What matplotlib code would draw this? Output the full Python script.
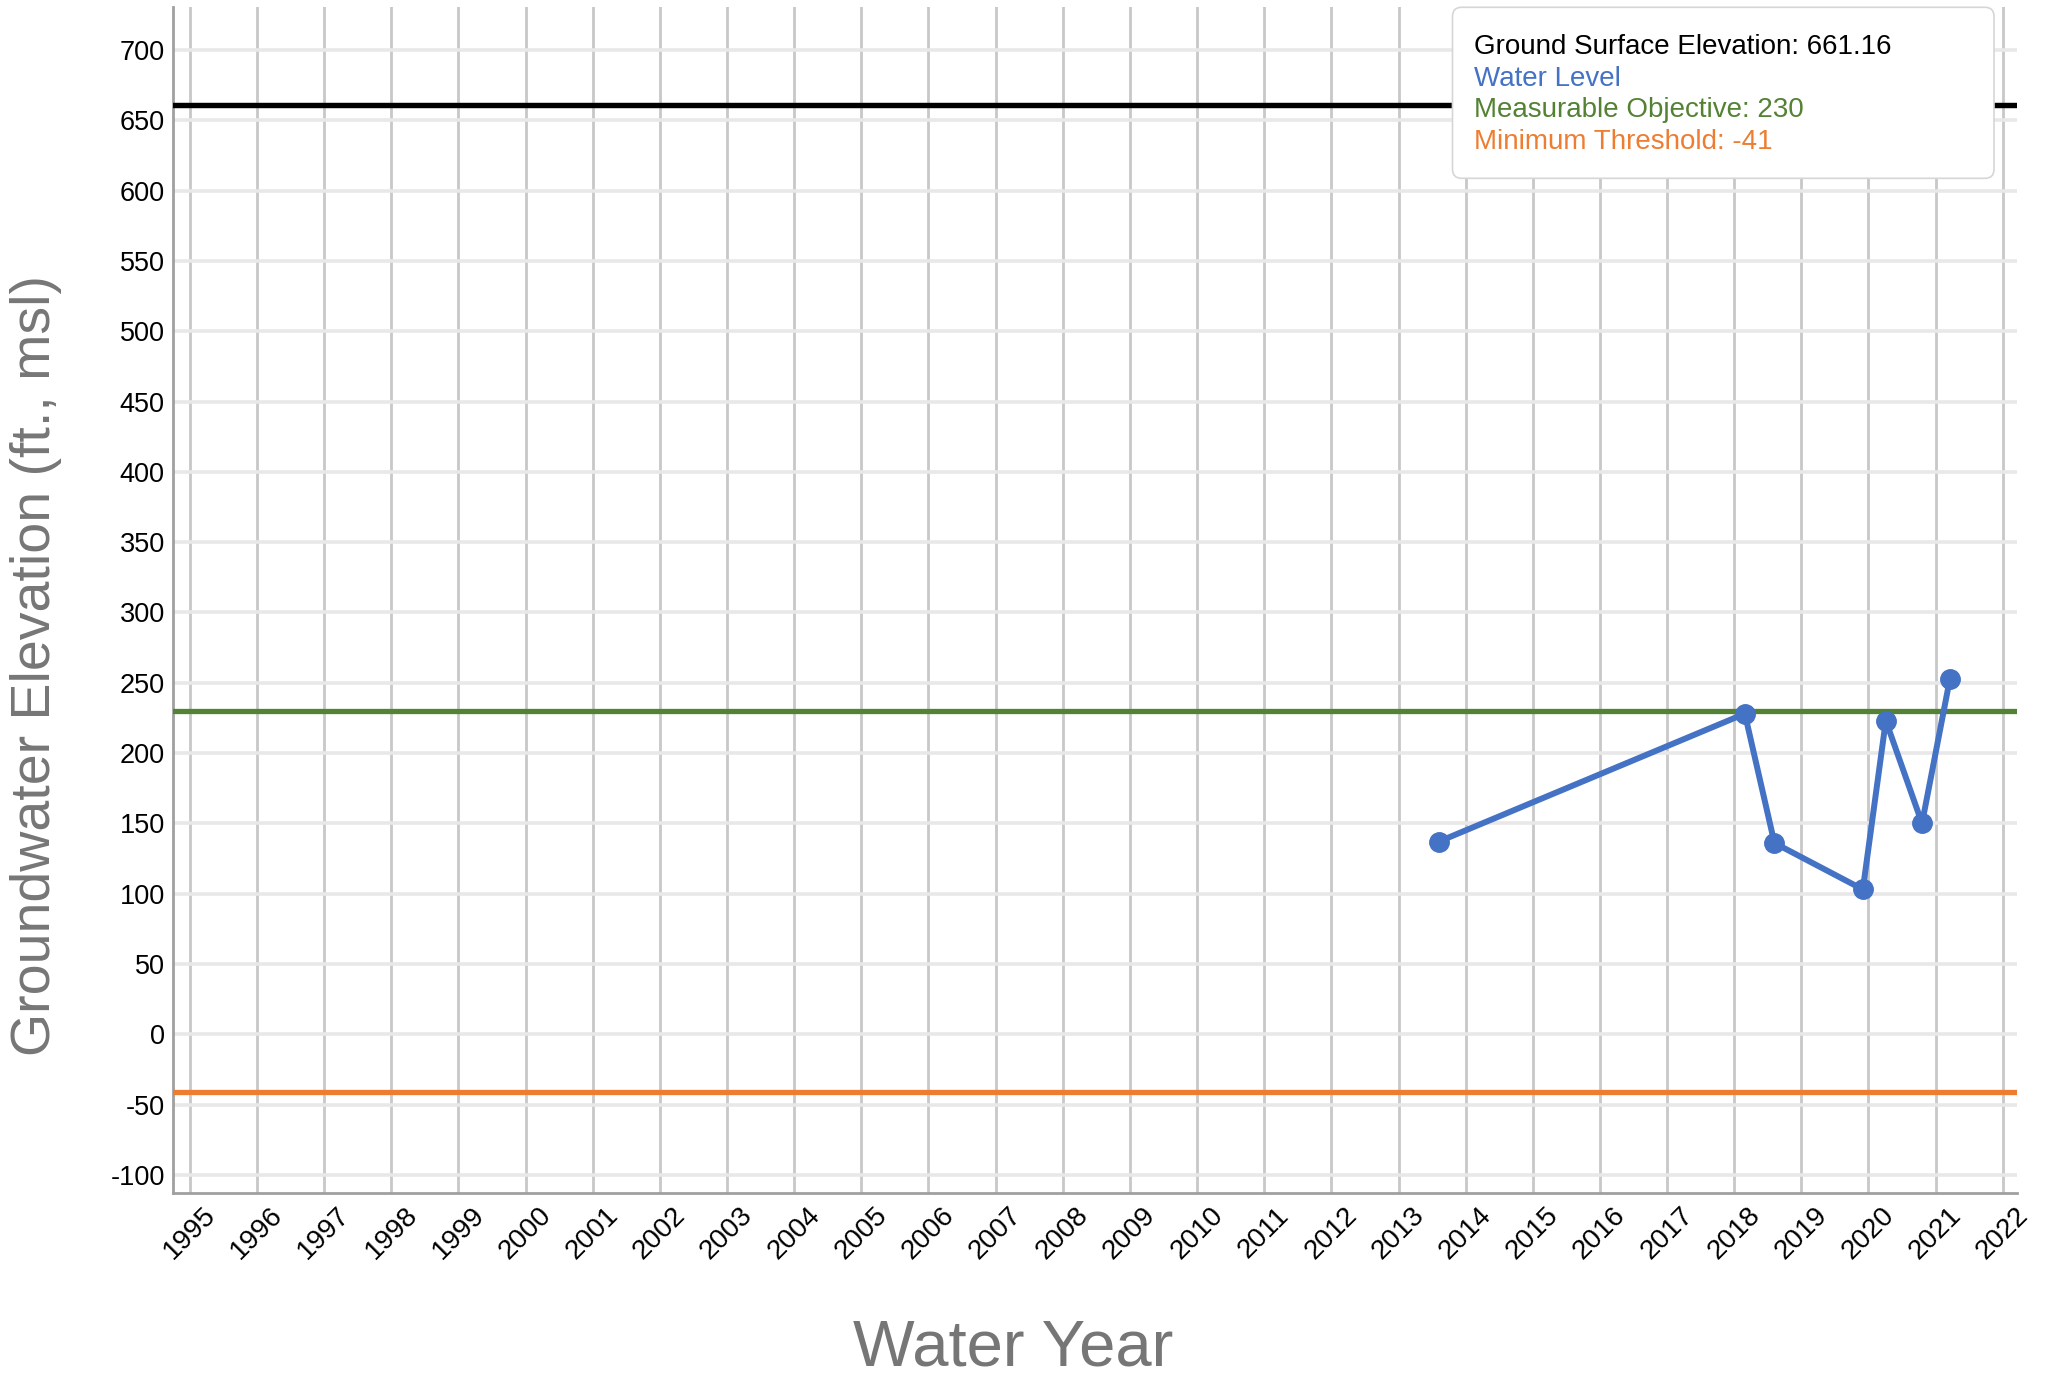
import datetime as dt

import matplotlib
matplotlib.use("Agg")
import matplotlib.pyplot as plt
import matplotlib.dates as mdates
from matplotlib.patches import FancyBboxPatch
from matplotlib.transforms import IdentityTransform

plt.rcParams["font.family"] = ["Liberation Sans", "DejaVu Sans"]
plt.rcParams["axes.unicode_minus"] = False

# Measurement dates and groundwater elevations (ft, msl)
sample_dates = ["2013-08-08", "2018-02-28", "2018-08-08", "2019-12-02",
                "2020-04-05", "2020-10-19", "2021-03-20"]
water_level = [137, 228, 136, 103, 223, 150, 253]

ground_surface = 661.16
measurable_objective = 230
minimum_threshold = -41

years = list(range(1995, 2023))
y_ticks = list(range(-100, 701, 50))

legend_lines = [
    (f"Ground Surface Elevation: {ground_surface}", "#000000"),
    ("Water Level", "#4472C4"),
    (f"Measurable Objective: {measurable_objective}", "#548235"),
    (f"Minimum Threshold: {minimum_threshold}", "#ED7D31"),
]

W, H = 2055, 1380
fig = plt.figure(figsize=(W / 100, H / 100), dpi=100)
ax = fig.add_axes([173 / W, 1 - 1192.7 / H, (2016.7 - 173) / W, (1192.7 - 7) / H])

dates = [dt.datetime.strptime(d, "%Y-%m-%d") for d in sample_dates]

# Reference lines
ax.axhline(ground_surface, color="black", lw=3.9, zorder=3)
ax.axhline(measurable_objective, color="#548235", lw=3.8, zorder=3)
ax.axhline(minimum_threshold, color="#ED7D31", lw=3.8, zorder=3)

# Water level series
ax.plot(dates, water_level, color="#4472C4", lw=4.3, marker="o", ms=14,
        zorder=4, solid_capstyle="round")

ax.set_xlim(dt.datetime(1994, 10, 1), dt.datetime(2022, 3, 18))
ax.set_ylim(-112.7, 730.6)

ax.set_xticks([dt.datetime(y, 1, 1) for y in years])
ax.xaxis.set_major_formatter(mdates.DateFormatter("%Y"))
ax.set_yticks(y_ticks)

ax.tick_params(axis="both", length=0, colors="black")
ax.tick_params(axis="y", pad=6, labelsize=19.5)
ax.tick_params(axis="x", pad=7, labelsize=20)
for lbl in ax.get_xticklabels():
    lbl.set_rotation(45)
    lbl.set_ha("center")
    lbl.set_va("top")

ax.grid(axis="x", color="#c8c8c8", lw=2, zorder=1)
ax.grid(axis="y", color="#e8e8e8", lw=2.6, zorder=1)
ax.set_axisbelow(True)

for side in ("top", "right"):
    ax.spines[side].set_visible(False)
for side in ("left", "bottom"):
    ax.spines[side].set_color("#a0a0a0")
    ax.spines[side].set_linewidth(2)

# Axis titles
fig.text(1013.5 / W, (H - 1366) / H, "Water Year", fontsize=47,
         color="#767676", ha="center", va="baseline")
fig.text(36 / W, 1 - 665 / H, "Groundwater Elevation (ft., msl)", fontsize=40,
         color="#767676", rotation=90, ha="center", va="center")

# Legend box
box = FancyBboxPatch((1452.5, H - 178.3), 1994 - 1452.5, 178.3 - 7.3,
                     boxstyle="round,pad=0,rounding_size=9",
                     transform=IdentityTransform(), facecolor="white",
                     edgecolor="#d6d6d6", lw=1.2, zorder=10)
fig.add_artist(box)
baselines = [54, 85.7, 117.4, 149.1]
for (txt, col), yb in zip(legend_lines, baselines):
    t = fig.text(1474.5 / W, (H - yb) / H, txt, fontsize=20, color=col,
                 ha="left", va="baseline")
    t.set_zorder(11)

fig.savefig("out.png", dpi=100, facecolor="white")
